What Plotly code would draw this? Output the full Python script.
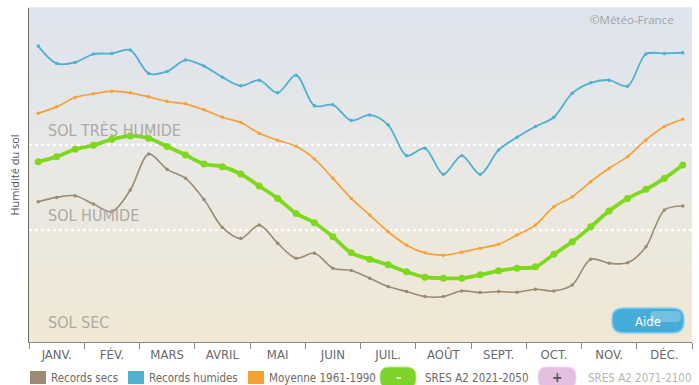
import plotly.graph_objects as go

# ---------------- data ----------------
months = ["JANV.", "FÉV.", "MARS", "AVRIL", "MAI", "JUIN",
          "JUIL.", "AOÛT", "SEPT.", "OCT.", "NOV.", "DÉC."]
# 3 points per month (decades)
decade_pos = [(i + 0.5) / 3 for i in range(36)]

records_humides = [88.6, 83.4, 83.7, 86.2, 86.4, 87.4, 80.4, 81.0, 84.4, 82.6, 79.3, 76.7,
                   78.4, 74.6, 79.9, 70.7, 71.0, 66.3, 68.0, 65.0, 55.8, 58.0, 50.2, 55.8,
                   50.2, 57.5, 61.3, 64.5, 67.3, 74.5, 77.6, 78.4, 76.6, 86.2, 86.4, 86.6]
moyenne = [68.5, 70.4, 73.2, 74.3, 75.1, 74.6, 73.4, 72.0, 71.3, 69.5, 67.3, 65.7,
           62.5, 60.4, 58.6, 54.8, 49.0, 43.0, 38.0, 33.0, 29.0, 26.7, 26.0, 26.9,
           28.1, 29.3, 32.0, 35.0, 40.5, 43.5, 48.0, 52.0, 55.5, 60.5, 64.5, 66.7]
sres_2021_2050 = [54.0, 55.5, 57.7, 58.9, 60.7, 61.7, 61.0, 58.5, 56.0, 53.3, 52.5, 50.3,
                  46.7, 43.0, 38.5, 35.7, 31.5, 26.7, 24.8, 23.1, 21.0, 19.4, 19.1, 19.1,
                  20.1, 21.3, 22.1, 22.5, 26.3, 30.0, 34.5, 39.2, 43.0, 45.7, 49.0, 53.0]
records_secs = [42.0, 43.3, 43.8, 41.3, 39.0, 45.5, 56.3, 51.7, 49.0, 42.7, 34.3, 31.0,
                35.0, 29.6, 25.1, 26.6, 22.1, 21.4, 19.1, 16.6, 15.1, 13.6, 13.6, 15.3,
                14.8, 15.1, 14.9, 15.8, 15.3, 17.1, 24.8, 23.6, 23.7, 28.5, 39.5, 40.7]
thresholds = [59.0, 33.5]
zone_labels = ["SOL TRÈS HUMIDE", "SOL HUMIDE", "SOL SEC"]

# ---------------- layout helpers ----------------
W, H = 699, 385
L, R, T, B = 29, 7, 8, 43
PW, PH = W - L - R, H - T - B


def px(x):
    return (x - L) / PW


def py(y):
    return (H - B - y) / PH


FONT = "Liberation Sans Narrow, DejaVu Sans Condensed, Roboto, sans-serif"

fig = go.Figure()

series = [
    ("Records secs", records_secs, "#9b8b73", 1.6, 3.5),
    ("Records humides", records_humides, "#4db1cf", 1.8, 3.5),
    ("Moyenne 1961-1990", moyenne, "#f6a132", 1.7, 3.5),
    ("SRES A2 2021-2050", sres_2021_2050, "#7ed81e", 3.8, 7),
]
for name, vals, col, w, ms in series:
    fig.add_trace(go.Scatter(
        x=decade_pos, y=vals, name=name, mode="lines+markers",
        line=dict(color=col, width=w, shape="spline", smoothing=0.9),
        marker=dict(color=col, size=ms),
        showlegend=False, hoverinfo="skip"))

shapes = []
# gradient background bands
top = (221, 228, 238)
mid = (234, 233, 229)
bot = (241, 232, 212)
N = 40
for k in range(N):
    t = (k + 0.5) / N  # 0 bottom -> 1 top
    if t > 0.5:
        u = (t - 0.5) / 0.5
        c = tuple(int(mid[j] + (top[j] - mid[j]) * u) for j in range(3))
    else:
        u = t / 0.5
        c = tuple(int(bot[j] + (mid[j] - bot[j]) * u) for j in range(3))
    shapes.append(dict(type="rect", xref="x domain", yref="y domain",
                       x0=0, x1=1, y0=k / N, y1=(k + 1) / N + 0.002,
                       fillcolor="rgb(%d,%d,%d)" % c, line=dict(width=0),
                       layer="below"))
# dotted thresholds
for th in thresholds:
    shapes.append(dict(type="line", xref="x domain", yref="y", x0=0, x1=1,
                       y0=th, y1=th, line=dict(color="white", width=2.2, dash="dot"),
                       layer="below"))


def rrect(x0, y0, x1, y1, r):
    # rounded rectangle in paper coords, given pixel coords
    rx = r / PW
    ry = r / PH
    X0, X1, Y0, Y1 = px(x0), px(x1), py(y1), py(y0)
    return (f"M {X0+rx},{Y0} L {X1-rx},{Y0} Q {X1},{Y0} {X1},{Y0+ry} "
            f"L {X1},{Y1-ry} Q {X1},{Y1} {X1-rx},{Y1} L {X0+rx},{Y1} "
            f"Q {X0},{Y1} {X0},{Y1-ry} L {X0},{Y0+ry} Q {X0},{Y0} {X0+rx},{Y0} Z")


# Aide button
shapes.append(dict(type="path", xref="paper", yref="paper",
                   path=rrect(612, 308, 684, 333, 11),
                   fillcolor="#43acd8", line=dict(color="#8fd0ec", width=1.5)))
shapes.append(dict(type="path", xref="paper", yref="paper",
                   path=rrect(650, 311, 681, 322, 5),
                   fillcolor="rgba(255,255,255,0.25)", line=dict(width=0)))

# legend squares
leg_sq = [(30, "#9b8b73"), (128, "#4db1cf"), (248, "#f6a132")]
for x0, col in leg_sq:
    shapes.append(dict(type="rect", xref="paper", yref="paper",
                       x0=px(x0), x1=px(x0 + 16), y0=py(384), y1=py(371),
                       fillcolor=col, line=dict(width=0)))
# legend buttons
shapes.append(dict(type="path", xref="paper", yref="paper",
                   path=rrect(380, 367, 416, 388, 9),
                   fillcolor="#7ed32a", line=dict(color="#b5ea85", width=1)))
shapes.append(dict(type="path", xref="paper", yref="paper",
                   path=rrect(538, 367, 576, 388, 9),
                   fillcolor="#e3bfe0", line=dict(color="#efd8ee", width=1)))

annotations = []
# zone labels
for txt, yy in zip(zone_labels, [130, 215, 322]):
    annotations.append(dict(text=txt, xref="paper", yref="paper", x=px(46), y=py(yy),
                            xanchor="left", yanchor="middle", showarrow=False,
                            font=dict(family=FONT, size=16, color="#ada9a3")))
annotations.append(dict(text="©Météo-France", xref="paper", yref="paper",
                        x=px(676), y=py(20), xanchor="right", yanchor="middle",
                        showarrow=False,
                        font=dict(family="Open Sans, sans-serif", size=11.5, color="#a3a3a3")))
annotations.append(dict(text="Aide", xref="paper", yref="paper",
                        x=px(648), y=py(321), xanchor="center", yanchor="middle",
                        showarrow=False, font=dict(family=FONT, size=13, color="white")))
# legend texts
leg_txt = [(49, "Records secs", "#6f6a62"), (147, "Records humides", "#6f6a62"),
           (267, "Moyenne 1961-1990", "#6f6a62"), (423, "SRES A2 2021-2050", "#6f6a62"),
           (586, "SRES A2 2071-2100", "#b9b6b2")]
for x0, t, c in leg_txt:
    annotations.append(dict(text=t, xref="paper", yref="paper", x=px(x0), y=py(378),
                            xanchor="left", yanchor="middle", showarrow=False,
                            font=dict(family=FONT, size=11.5, color=c)))
annotations.append(dict(text="<b>-</b>", xref="paper", yref="paper", x=px(398), y=py(377),
                        xanchor="center", yanchor="middle", showarrow=False,
                        font=dict(family=FONT, size=14, color="white")))
annotations.append(dict(text="<b>+</b>", xref="paper", yref="paper", x=px(557), y=py(377),
                        xanchor="center", yanchor="middle", showarrow=False,
                        font=dict(family=FONT, size=14, color="#555555")))

fig.update_layout(
    width=W, height=H,
    margin=dict(l=L, r=R, t=T, b=B, pad=0),
    paper_bgcolor="white", plot_bgcolor="rgba(0,0,0,0)",
    showlegend=False,
    shapes=shapes, annotations=annotations,
    xaxis=dict(range=[0, 12], tickvals=[m + 0.5 for m in range(12)], ticktext=months,
               ticks="", showgrid=False, zeroline=False, showline=True,
               linecolor="#8a8a8a", linewidth=1.2,
               tickfont=dict(family=FONT, size=13, color="#6a6a6a"),
               minor=dict(tickmode="array", tickvals=list(range(13)), ticks="outside",
                          ticklen=6, tickcolor="#8a8a8a", tickwidth=1.2, showgrid=False),
               fixedrange=True),
    yaxis=dict(range=[0, 100], showticklabels=False, ticks="", showgrid=False,
               zeroline=False, showline=True, linecolor="#666666", linewidth=1.2,
               title=dict(text="Humidité du sol", standoff=6,
                          font=dict(family="Open Sans, sans-serif", size=11, color="#555")),
               fixedrange=True),
)

fig.write_html("out.html", config={"displayModeBar": False},
               post_script="document.body.style.margin='0';document.body.style.padding='0';"
                           "document.body.style.overflow='hidden';")
